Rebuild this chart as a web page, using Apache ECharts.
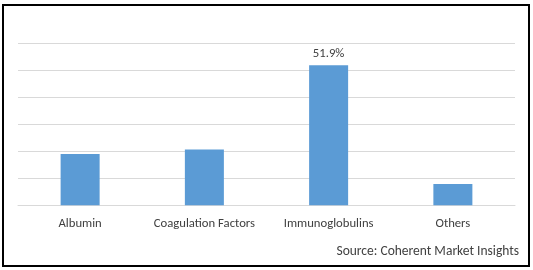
<!DOCTYPE html>
<html>
<head>
<meta charset="utf-8">
<script src="https://cdn.jsdelivr.net/npm/echarts@6/dist/echarts.min.js"></script>
<style>
  html, body { margin: 0; padding: 0; background: #fff; }
</style>
</head>
<body>
<!-- chart container, same size as the reference -->
<div id="chart" style="width: 533px; height: 270px"></div>
<script>
// data
const categories = ['Albumin', 'Coagulation Factors', 'Immunoglobulins', 'Others']
const shares = [19.0, 20.7, 51.9, 7.9]
const labelled = ['Immunoglobulins'] // only this bar carries a value label
const sourceText = 'Source: Coherent Market Insights'

const chart = echarts.init(document.getElementById('chart'), null, { renderer: 'canvas' })

const textColor = '#404040'
const fontFamily = 'Carlito, "Open Sans", "Liberation Sans", sans-serif'

const option = {
  animation: false,
  grid: { left: 18, right: 18, top: 43.3, bottom: 64.7, containLabel: false },
  xAxis: {
    type: 'category',
    data: categories,
    axisLine: { show: true, lineStyle: { color: '#d9d9d9', width: 1 } },
    axisTick: { show: false },
    axisLabel: { interval: 0, color: textColor, fontSize: 12.7, fontFamily: fontFamily, margin: 12 }
  },
  yAxis: {
    type: 'value',
    min: 0,
    max: 60,
    interval: 10,
    axisLabel: { show: false },
    axisLine: { show: false },
    axisTick: { show: false },
    splitLine: { lineStyle: { color: '#d9d9d9', width: 1 } }
  },
  series: [
    {
      type: 'bar',
      data: shares.map((v, i) => ({
        value: v,
        label: { show: labelled.includes(categories[i]) }
      })),
      barWidth: '31.4%',
      itemStyle: { color: '#5b9bd5' },
      label: {
        position: 'top',
        distance: 5,
        color: textColor,
        fontSize: 12.7,
        fontFamily: fontFamily,
        formatter: p => p.value.toFixed(1) + '%'
      }
    }
  ],
  graphic: [
    // outer black frame
    {
      type: 'rect',
      shape: { x: 3, y: 5, width: 526, height: 261 },
      style: { fill: null, stroke: '#000', lineWidth: 2 },
      silent: true
    },
    {
      type: 'text',
      right: 14,
      top: 245,
      style: { text: sourceText, fill: textColor, fontSize: 13.5, fontFamily: fontFamily }
    }
  ]
}

chart.setOption(option)
</script>
</body>
</html>
